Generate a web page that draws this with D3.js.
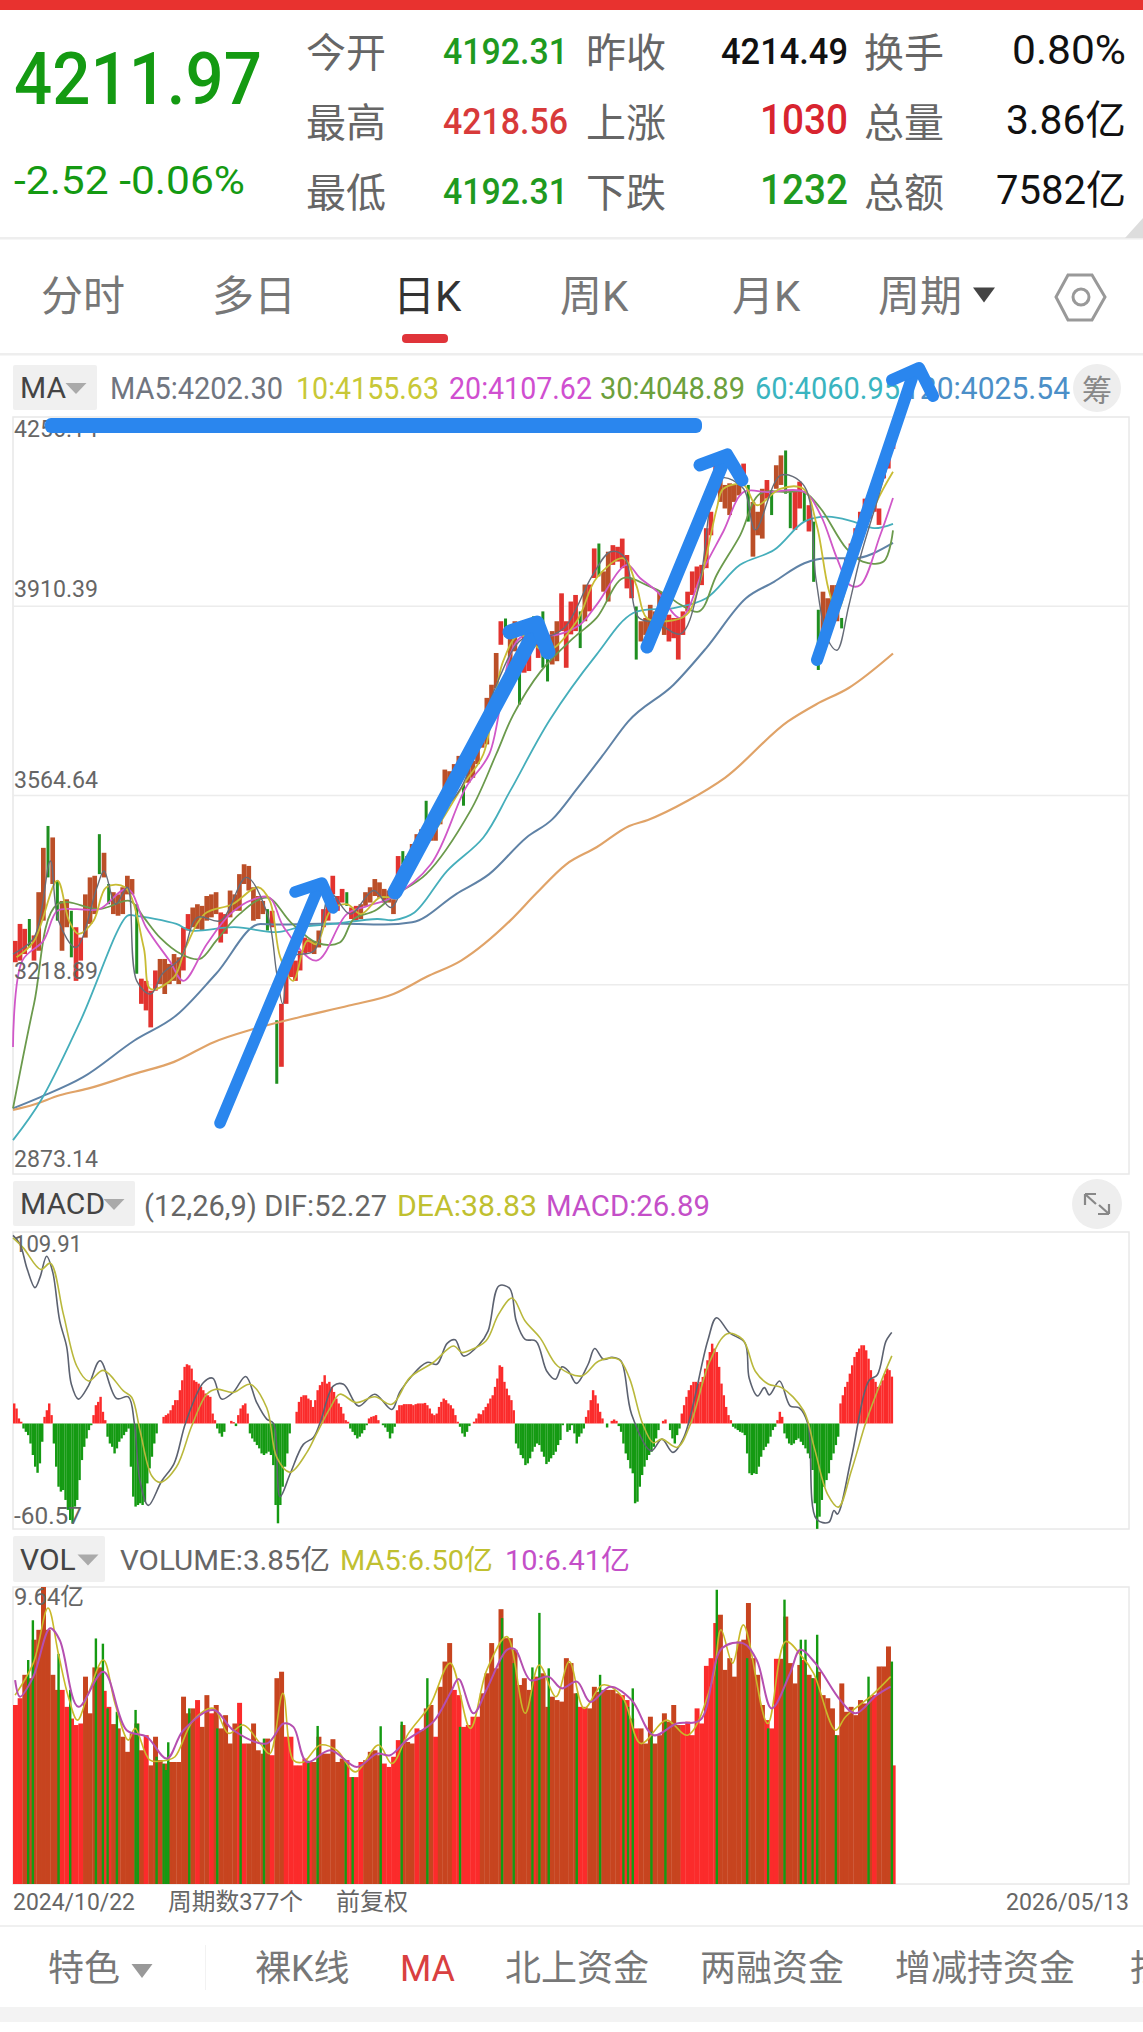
<!DOCTYPE html>
<html><head><meta charset="utf-8">
<style>html,body{margin:0;padding:0;background:#fff}svg{display:block}text{font-family:Roboto,"Noto Sans CJK SC",sans-serif}</style>
<script src="https://cdn.jsdelivr.net/npm/d3@7/dist/d3.min.js"></script></head><body><svg id="c" width="1143" height="2032"></svg>
<script>
const priceTicks=[4256.14,3910.39,3564.64,3218.89,2873.14];
const candleHigh=[3299,3330,3321,3339,3309,3388,3469,3509,3488,3409,3372,3375,3354,3324,3305,3384,3415,3418,3494,3460,
3403,3388,3384,3397,3418,3412,3366,3230,3226,3208,3245,3266,3266,3257,3275,3269,3324,3348,3360,3366,
3363,3381,3384,3388,3351,3348,3391,3384,3421,3439,3436,3397,3381,3372,3357,3354,3154,3184,3269,3275,
3263,3281,3305,3302,3299,3318,3357,3369,3418,3381,3394,3388,3360,3363,3366,3388,3397,3412,3406,3394,
3391,3375,3454,3463,3454,3476,3494,3503,3555,3527,3530,3561,3612,3609,3622,3637,3585,3616,3628,3652,
3682,3743,3767,3825,3883,3888,3865,3883,3834,3859,3834,3892,3865,3901,3859,3865,3883,3934,3883,3919,
3931,3901,3950,3950,4016,4025,3974,4010,4022,4019,4034,4004,3962,3910,3883,3889,3913,3901,3937,3910,
3895,3889,3889,3901,3937,3974,3983,3986,4053,4083,4168,4189,4132,4135,4132,4138,4171,4132,4101,4083,
4125,4141,4122,4168,4186,4195,4119,4122,4138,4119,4095,4065,3904,3937,3925,3949,3949,3889,3998,4025,
4053,4083,4107,4113,4107,4089,4180,4192,4229];
const candleLow=[3260,3263,3275,3287,3263,3281,3336,3415,3403,3336,3281,3324,3269,3226,3263,3305,3330,3348,3421,3415,
3366,3348,3345,3348,3384,3384,3239,3184,3172,3141,3208,3220,3202,3220,3226,3220,3245,3318,3324,3321,
3318,3336,3342,3348,3296,3312,3342,3354,3354,3403,3391,3336,3339,3348,3318,3324,3038,3069,3184,3233,
3226,3245,3275,3278,3275,3287,3324,3336,3384,3354,3369,3363,3339,3336,3339,3363,3369,3381,3378,3369,
3369,3348,3397,3439,3415,3439,3457,3476,3500,3482,3482,3512,3573,3579,3585,3603,3546,3588,3597,3622,
3652,3658,3713,3761,3840,3855,3795,3828,3731,3789,3792,3834,3816,3798,3773,3804,3810,3865,3798,3859,
3865,3834,3883,3901,3962,3965,3937,3919,3986,3992,3980,3943,3925,3813,3846,3858,3864,3876,3883,3858,
3846,3852,3813,3858,3901,3931,3943,3949,3980,4040,4138,4101,4089,4077,4101,4113,4144,4065,4001,4040,
4034,4107,4077,4125,4132,4116,4053,4050,4089,4065,4047,3955,3794,3846,3876,3901,3883,3870,3955,3992,
4022,4059,4071,4071,4083,4059,4144,4162,4198];
const candleDown=[3,7,9,12,18,20,26,54,56,71,83,88,96,105,108,111,113,114,121,125,133,157,162,165,166,169,171,172,177];
const candleMuted=[[5,12],[15,19],[21,25],[31,35],[38,43],[46,53],[64,65],[74,81],[84,87],[89,95],[97,103],[106,107],[115,116],[122,122],[126,127],[134,139],[151,155],[157,160],[163,164],[173,176]];

const ma5Idx=[0,9,16,19.5,27,36,39,44,49,53,59,64,72,79,89,100,109,113,115.6,119,129,136,144.5,154.5,162,173,192,205,218,225,236,248,256,262,268,276,286,294,300,304,313,318,329,339,344,349,353,358,363,370,377];
const ma5Val=[3275,3305,3445,3336,3287,3397,3427,3366,3397,3226,3202,3239,3269,3342,3336,3415,3348,3239,3184,3269,3281,3385,3348,3391,3360,3482,3579,3745,3850,3850,3870,3965,4010,4000,3890,3880,3860,3950,4120,4145,4125,4050,4150,4130,3960,3850,3830,3910,4000,4100,4202];
const ma10Idx=[1.5,9,19,24,28,34.5,40,48,56,59,69,74,82,94,105,110,114.5,120,126,130,136,143,149,157,163,171.5,179,194,201.5,210,217,228.6,241.5,250,261.5,267,271.5,280,288.6,294.3,301.5,304.3,313,318.6,328.6,338.6,344.3,349.3,353,360,370,377];
const ma10Val=[3269,3299,3409,3336,3312,3336,3397,3397,3287,3211,3233,3287,3348,3366,3397,3372,3269,3226,3299,3293,3354,3366,3348,3378,3381,3445,3488,3591,3640,3810,3858,3828,3883,3962,3998,3949,3889,3883,3895,3955,4089,4125,4132,4095,4125,4125,4059,3943,3901,3992,4101,4156];
const ma20Idx=[0,4,13,19,27,37,49,57,67,73,83,93,103,110,116,130,143,152,162,179,194,204,217,233,243,250,263,268.6,276,286,296,304.3,313,323,339,346,353,358.6,363,371.5,377];
const ma20Val=[3105,3263,3299,3354,3357,3357,3394,3324,3263,3226,3293,3348,3375,3378,3324,3263,3348,3363,3378,3439,3579,3640,3852,3858,3877,3913,3986,3962,3937,3889,3980,4047,4119,4119,4119,4077,3998,3949,3949,4040,4108];
const ma30Idx=[0,9,19,37,50,56,63,72,80,87,97,109,119,130,140,146,155,163,177,196,207,214.3,226,240,250,261.5,271.5,280,286,294,301.5,311.5,320,331.5,339,346,357,364,373,377];
const ma30Val=[2993,3184,3366,3357,3372,3342,3305,3275,3266,3299,3348,3378,3333,3296,3296,3339,3354,3381,3421,3537,3640,3712,3791,3852,3889,3962,3949,3931,3913,3901,3968,4040,4116,4119,4119,4089,4016,3992,3992,4049];
const ma60Idx=[0,12,29,49,52,70,76,95,113,123,137,156,163,172,186,201.5,213,230,250,265.7,283,297,311.5,326,339,349,360,369,377];
const ma60Val=[2935,3008,3154,3345,3345,3330,3318,3324,3315,3324,3330,3339,3337,3351,3427,3488,3573,3703,3822,3898,3907,3925,3986,4013,4065,4074,4065,4053,4061];
const ma120Idx=[0,12,30,52,70,87,106,113,137,159,171,190,204,220,231,242,253,263.6,283,297,314,326,339,349,360,377];
const ma120Val=[2993,3014,3050,3117,3163,3239,3330,3329,3331,3329,3333,3385,3421,3488,3521,3579,3640,3700,3767,3834,3925,3955,3989,3998,3998,4026];
const ma250Idx=[0,9,20,32,52,69,86,103,123,144,163,177,192,213,224,237,250,264,272,289,305,332,344,358,377];
const ma250Val=[2990,3000,3017,3029,3056,3078,3114,3138,3160,3181,3202,3233,3263,3336,3385,3439,3470,3509,3520,3555,3597,3700,3731,3761,3824];

const macdHist=[11.5,8.6,2.9,1,-2.9,-4.8,-6.7,-11.5,-18.1,-24.8,-28.3,-22.9,-10.5,3.8,7.6,11.5,4.8,
-11.5,-24.8,-36.3,-39.1,-38.2,-43.9,-49.6,-55.4,-57.3,-47.7,-43.9,-32.5,-21,-13.4,-8.6,-3.8,-1,
4.8,10.5,12.4,15.3,6.7,1.9,-7.6,-11.5,-13.4,-17.2,-14.3,-10.5,-8.6,-6.7,-4.8,-2.9,
-24.8,-42,-47.7,-46.8,-45.8,-46.8,-44.9,-34.4,-25.8,-19.1,-11.5,-5.7,0,0,
3.8,4.8,5.7,7.6,10.5,13.4,13.4,19.1,24.8,32.5,34,33.4,31.5,24.8,23.9,22.9,21,19.1,17.2,16.2,15.3,5.7,1.9,
-2.9,-5.7,-7.6,-4.8,0,0,1.5,.8,-1.5,4.8,8.6,10.5,11.5,5.7,
-5.7,-8.6,-10.5,-12.4,-14.3,-17.2,-18.1,-17.2,-16.2,-18.1,-23.9,-46.8,-57.3,-46.8,-36.3,-24.8,-17.2,-5.7,0,0,
6.7,12.4,15.3,16.2,16.2,14.3,13.4,9.5,13.4,19.1,22,23.9,27.7,22.9,23.9,21,18.1,14.3,11.5,9.5,5.7,1.9,1,
-2.9,-4.8,-6.7,-8.6,-7.6,-5.7,-3.8,-1,2.9,3.8,4.2,4.8,1.9,0,-1,-2.3,-4.8,-8.6,-5.7,-1.9,
7.6,10.5,10.5,11.1,11.1,11.1,11.1,10.5,11.1,11.5,11.5,11.5,11.8,10.5,8.6,5.7,4.8,5.7,9.5,12.4,14.3,13.4,11.5,10.5,8.6,4.8,1,
-1.9,-5.7,-7.6,-4.8,-1.5,0,
1,2.9,5.7,5.3,7.6,9.5,11.5,14.3,16.2,21,25.8,33.4,32.5,23.9,20,16.2,13.4,7.6,
-11.5,-14.3,-18.1,-20,-23.9,-22.9,-20,-16.2,-13.4,-11.5,-12.4,-16.2,-19.1,-23.3,-22,-20,-18.1,-16.2,-12.4,-9.5,
-1,0,-4.8,-3.8,-1,-5.7,-11.5,-7.6,-5.7,-2.9,3.8,7.6,13.4,19.1,16.2,11.5,6.7,2.9,0,-2.3,0,1.5,2.3,1.5,-1.5,
-4.8,-11.5,-17.2,-21,-25.8,-28.6,-45.8,-44.9,-36.3,-29.6,-24.8,-21,-18.1,-16.2,-13.4,-8.6,-3.8,0,1.5,2.3,0,
-3.8,-8.6,-11.5,-6.7,-2.9,
5.7,10.5,15.3,19.1,22,23.9,23.9,22.9,23.9,26.7,31.5,36.3,41,45.8,43,41,32.5,22.9,16.2,9.5,4.8,1.9,
-1.9,-2.9,-3.8,-4.8,-5.3,-6.7,-17.2,-28.6,-29.6,-28.6,-29,-24.8,-19.1,-15.3,-13.4,-11.5,-7.6,-3.8,-1.9,1.9,6.7,3.8,
-5.7,-8.6,-11.5,-12.4,-11.5,-9.5,-8.6,-10.5,-12.4,-14.3,-17.2,-20,-26.7,-45.8,-60.5,-53.5,-43.9,-36.3,-32.5,-28.6,-21,-17.2,-12.4,-7.6,
11.5,16.2,21,23.9,28.6,33.4,38.2,41,43,44.9,44.9,42,37.2,30.6,25.8,23.9,21,22,24.8,28.6,31.5,30.6,26.89];
const difIdx=[0,3,6,9.4,11.6,14.4,17,20,23,25,28,32.3,37.3,44.4,49.4,52,54.4,58,63.7,69,74,81.6,85.6,89.4,94.4,99.7,104.4,108.7,111.6,114.4,118.7,124.4,128.7,131.6,137.3,141.6,148,155,162.3,166,177.3,181.6,186,189.4,193,199.8,203.5,208.2,212.8,215.6,219.4,224,228.7,232.4,235.2,238,241.4,246.4,249.2,253,256.6,260.4,265,273.4,278,282.7,287.4,297.6,301.4,307,313.5,315.4,319,321.9,324,328.4,333,336.8,340.5,344.2,349.5,351.7,353.2,359.2,366.6,370.3,374,376.5];
const difVal=[108,103,89,78,84,96,87,59,44,22.5,14,21.6,36,14.3,15.3,0,-33,-47,-33,-23,0.6,23.5,26,14,18,27,12,2.5,0,-42,-29,-12,-8,.6,21.6,22.5,10,16.8,8,18.7,35,34,46,48,38.7,45.4,53,79,77.5,58.8,48.3,47.3,30,25.4,32.5,30,23,34,43,36.8,38,36,5.3,-15.7,-9,-16.6,-8,47.3,60.7,52,46.4,26,15.8,20.6,16.4,24.4,10,9,0,-54.8,-56.7,-50,-52,-19.5,24.4,28,47.3,52.27];
const deaIdx=[0,4.4,11.9,16,21.6,27.3,32.3,38.7,47.3,50.9,54.4,59.4,63,70,76.6,83,87.3,94.4,101.6,108.7,113,118.7,125.9,130,135.9,140,147,155,162.3,170,180,188.7,192.3,195,202.6,208,213.8,219.4,225.9,233.3,243.6,251,259.4,264,269.7,274.3,278,284.6,290.2,298.6,306,312.6,318,323.7,329.3,338.7,343.3,349,353.6,359.2,365.6,372,376.5];
const deaVal=[106.5,100.8,88.4,92,62.6,33,24.4,30.5,18.7,14.9,-4,-30,-33.8,-25,-1.3,16.8,19.7,17.8,22.5,9,-19.5,-28,-16.6,-6,9,16.8,12,15.3,11,26.3,35,44.5,40.7,41.6,47.3,62.6,72,58.8,49,33,27.3,35.9,36.8,26.3,0,-11,-9,-13.7,-.4,35.9,51.5,48.3,30,22.5,20.6,7.3,-14,-40.7,-48,-27,1.5,24.4,38.83];

const volume=[5.81,6.03,6.79,6.68,7.93,8.25,9.64,8.25,6.79,6.30,6.30,5.75,5.37,5.16,5.21,6.73,5.54,7.03,7.03,6.27,
5.75,5.19,5.05,4.78,4.29,4.89,5.21,4.34,4.83,3.85,4.78,4.02,3.91,3.96,3.96,3.96,6.08,5.54,5.70,5.97,
5.10,6.13,5.54,5.81,5.05,5.48,4.56,5.21,5.88,4.56,4.56,5.21,4.34,4.23,4.72,4.18,6.68,6.89,4.78,4.78,
3.85,3.85,4.07,3.96,3.96,4.78,4.23,4.23,4.70,3.96,4.07,4.02,3.47,3.47,3.96,4.02,4.29,4.34,4.18,3.91,
3.80,4.13,4.67,5.16,4.61,4.56,5.05,4.99,5.70,5.81,4.78,6.40,7.22,7.82,
6.30,6.13,5.10,5.16,5.43,5.43,6.19,6.84,7.82,7.00,8.92,7.98,7.98,7.60,6.46,6.68,6.30,6.73,6.73,6.84,
5.75,6.08,5.97,5.92,7.33,7.17,6.19,5.75,5.75,5.70,6.40,6.24,6.30,6.30,6.30,6.19,6.13,5.97,5.37,5.05,
5.05,4.56,5.43,4.56,4.83,5.54,5.27,5.81,5.16,5.16,5.27,4.83,5.70,5.21,7.08,7.33,8.47,8.74,6.95,7.33,
6.73,7.87,7.93,9.12,7.33,6.79,5.81,5.32,5.05,7.31,7.31,8.68,7.17,6.51,7.11,7.27,6.79,6.68,6.89,6.13,
6.03,5.70,4.83,6.51,5.59,5.75,5.48,5.97,5.86,6.08,6.13,7.06,7.06,7.71,3.85];
const volMuted=[[2,9],[15,18],[21,27],[29,38],[40,41],[43,47],[50,54],[56,57],[64,70],[75,78],[83,85],[87,89],[91,93],[100,102],[103,107],[108,110],[112,113],[114,120],[123,129],[134,138],[139,142],[151,157],[158,160],[164,168],[170,170],[172,176],[177,183],[185,187]];
const volGreenIdx=[6,8,19,24,35,38,40,44,52,53,61,64,65,66,75,87,97,107,126,130,142,145,157,166,177,191,209,214,222,225,229,241,251,261,263,265,273,279,301,314,323,330,337,339,342,344,352,366,376];
const volGreenVal=[7.27,8.56,7.47,6.3,7.97,7.8,5.7,5.59,5.65,5.2,4.13,3.9,3.7,4.6,5.7,5.05,5.2,4.72,4.0,5.13,3.96,3.47,5.12,5.27,6.68,5.1,8.63,7.17,7.03,8.8,7.0,6.19,6.79,5.97,5.75,6.35,4.94,5.27,9.55,7.33,5.05,9.23,7.93,7.93,6.68,8.09,4.83,6.73,7.22];
const volMa5Idx=[0.9,8.7,15,19.4,23.7,27.6,32.3,38.7,43.7,49.4,52.3,58.7,65.9,69.4,77.3,85.9,92.3,98.7,105.9,110,115.6,120.1,124.4,131.6,138.7,146.6,156.6,162.3,169.4,178.7,187.3,195.9,203,211.6,219.4,225.4,232.6,238.3,244.7,252.6,261,269,279.9,289,299.7,303.3,308.3,312.9,323.3,331,338,343,352.4,356.7,368,376];
const volMa5Val=[6.13,7.17,8.96,7.49,6.08,5.32,6.19,7.27,5.86,4.67,5.05,4.02,4.02,4.13,5.32,5.7,4.89,5.16,4.56,4.23,6.19,4.02,3.96,4.51,4.34,3.64,4.51,3.91,4.89,5.81,7.17,5.05,6.95,8.03,5.54,7.11,6.08,7.22,5.7,6.46,6.08,4.56,5.32,4.83,6.62,8.25,7.17,8.41,5.21,7.87,7.38,6.84,4.99,5.43,6.13,6.73];
const volMa10Idx=[0.9,3,8.7,15.9,20,28,38.7,48.7,57.3,65.9,73,85.9,94.4,108.7,115.9,120.1,125.9,135.9,147.3,155.9,161.6,168.7,180.1,187.3,190.9,197.3,203,211.6,215,221.6,229.4,235,241.6,247.3,255.9,265,274.4,284.4,294.4,303.7,312.9,318.6,325,332.9,337.3,343.7,354.4,360.9,370,376];
const volMa10Val=[6.62,6.08,6.73,8.3,7.92,5.75,6.89,4.99,4.78,4.07,4.99,5.65,4.99,4.56,5.21,5.1,3.96,4.34,3.8,4.23,4.18,4.67,5.27,6.19,6.65,5.54,6.33,7.6,7.62,6.62,6.73,6.35,6.57,5.91,6.4,5.97,4.83,5.21,5.32,7.65,7.81,7.27,5.7,6.84,7.6,7.17,5.97,5.54,6.13,6.41];

const quoteLabels=[["今开","昨收","换手"],["最高","上涨","总量"],["最低","下跌","总额"]];
const quoteCol1=["4192.31","4218.56","4192.31"];
const quoteCol2=["4214.49","1030","1232"];
const quoteCol3=["0.80%","3.86亿","7582亿"];
const periodTabs=["分时","多日","日K","周K","月K","周期"];
const maLegend=["MA5:4202.30","10:4155.63","20:4107.62","30:4048.89","60:4060.95","120:4025.54"];
const bottomTabs=["裸K线","MA","北上资金","两融资金","增减持资金","抄底"];

const RED="#fb2b2b",BROWN="#c7441f",GREEN="#149a12",CUP="#e2332f",CMUTE="#bb4f28",CDOWN="#1f8f20";
const svg=d3.select("#c");
const rect=(g,x,y,w,h,f,rx)=>g.append("rect").attr("x",x).attr("y",y).attr("width",w).attr("height",h).attr("fill",f).attr("rx",rx||0);
function txt(g,x,y,s,size,fill,o={}){const t=g.append("text").attr("x",x).attr("y",y).attr("font-size",size).attr("fill",fill).attr("text-anchor",o.a||"start").attr("font-weight",o.w||400).text(s);
 if(o.len)t.attr("textLength",o.len).attr("lengthAdjust","spacingAndGlyphs");return t;}
const tri=(g,cx,cy,w,h,f)=>g.append("path").attr("d",`M${cx-w/2},${cy-h/2}L${cx+w/2},${cy-h/2}L${cx},${cy+h/2}Z`).attr("fill",f);
const inRanges=(r,k)=>r.some(a=>k>=a[0]&&k<=a[1]);

const X=d3.scaleLinear().domain([0,377]).range([13,893]);
const yP=d3.scaleLinear().domain([2873.14,4256.14]).range([1174,417]);
const yM=d3.scaleLinear().domain([-60.57,109.91]).range([1529,1232]);
const yV=d3.scaleLinear().domain([0,9.64]).range([1884,1587]);
const series=(g,xs,vs,y,color,w,curve)=>g.append("path").datum(xs.map((d,i)=>[d,vs[i]])).attr("fill","none").attr("stroke",color).attr("stroke-width",w).attr("stroke-linejoin","round")
 .attr("d",d3.line().x(d=>X(d[0])).y(d=>y(d[1])).curve(curve||d3.curveCatmullRom.alpha(0.5)));

// header
rect(svg,0,0,1143,10,"#e8322f");
const head=svg.append("g");
txt(head,14,104,"4211.97",72,GREEN,{w:500,len:248});
txt(head,14,194,"-2.52 -0.06%",39,GREEN,{len:231});
const rowY=[67,137,207],cols=[306,586,864];
quoteLabels.forEach((r,i)=>r.forEach((s,j)=>txt(head,cols[j],rowY[i],s,40,"#666")));
const c1=["#1f9a1f","#d83a3a","#1f9a1f"],c2=["#111","#d8242f","#1f9a1f"];
quoteCol1.forEach((s,i)=>txt(head,568,rowY[i]-3,s,36,c1[i],{a:"end",len:125,w:500}));
quoteCol2.forEach((s,i)=>txt(head,848,rowY[i]-3,s,i?42:36,c2[i],{a:"end",len:i?88:127,w:500}));
const col3Len=[114,120,130];
quoteCol3.forEach((s,i)=>txt(head,1126,rowY[i]-3,s,40,"#111",{a:"end",len:col3Len[i]}));
rect(svg,0,237,1143,2.5,"#eeeeee");
svg.append("path").attr("d","M1125,238L1143,238L1143,218Z").attr("fill","#ddd");
const tabX=[41,212,393,560,732,878];
periodTabs.forEach((s,i)=>txt(svg,tabX[i],311,s,42,i==2?"#333":"#777"));
tri(svg,984,295,22,15,"#444");
svg.append("path").attr("d","M1068,275L1092,275L1105,297L1092,320L1068,320L1056,297Z").attr("fill","none").attr("stroke","#999").attr("stroke-width",3);
svg.append("circle").attr("cx",1081).attr("cy",297).attr("r",8).attr("fill","none").attr("stroke","#999").attr("stroke-width",3);
rect(svg,402,334,46,9,"#e0343a",4);
rect(svg,0,353,1143,2.5,"#eeeeee");

// section headers
function tag(y,h,w,s,tx,fs){rect(svg,13,y,w,h,"#f0f0f0",2);txt(svg,20,y+h/2+fs*.36,s,fs,"#444");tri(svg,tx,y+h/2+1,21,11,"#aaa");}
tag(365,45,84,"MA",76,30);
const legX=[110,296,449,600,755,903],legLen=[173,143,143,145,145,167],legC=["#70757f","#c8c837","#d04fd0","#6ca03c","#3ab4c0","#4b8fc8"];
maLegend.forEach((s,i)=>txt(svg,legX[i],399,s,31,legC[i],{len:legLen[i]}));
svg.append("circle").attr("cx",1097).attr("cy",388).attr("r",24).attr("fill","#eee");
txt(svg,1097,401,"筹",30,"#888",{a:"middle"});
tag(1181,45,122,"MACD",114,30);
txt(svg,144,1216,"(12,26,9) DIF:52.27",30,"#666",{len:243});
txt(svg,397,1216,"DEA:38.83",30,"#c0c030",{len:140});
txt(svg,546,1216,"MACD:26.89",30,"#c44fc8",{len:164});
svg.append("circle").attr("cx",1097).attr("cy",1204).attr("r",25).attr("fill","#eee");
svg.append("path").attr("d","M1085,1194L1085,1205M1085,1194L1096,1194M1085,1194L1096,1204M1109,1214L1109,1204M1109,1214L1098,1214M1109,1214L1099,1205").attr("stroke","#888").attr("stroke-width",2.2).attr("fill","none");
tag(1536,46,92,"VOL",88,30);
txt(svg,120,1570,"VOLUME:3.85亿",28,"#666",{len:210});
txt(svg,340,1570,"MA5:6.50亿",28,"#c0c030",{len:153});
txt(svg,505,1570,"10:6.41亿",28,"#c44fc8",{len:125});

// frames & grid
[[417,1174],[1232,1529],[1587,1884]].forEach(p=>svg.append("rect").attr("x",13).attr("y",p[0]).attr("width",1116).attr("height",p[1]-p[0]).attr("fill","none").attr("stroke","#e8e8e8").attr("stroke-width",1.5));
priceTicks.slice(1,4).forEach(t=>svg.append("line").attr("x1",13).attr("x2",1129).attr("y1",yP(t)).attr("y2",yP(t)).attr("stroke","#ececec").attr("stroke-width",1.5));

// volume
const vg=svg.append("g");
volume.forEach((v,k)=>rect(vg,X(2*k),yV(v),X(2)-X(0)+.3,yV(0)-yV(v),inRanges(volMuted,k)?BROWN:RED));
volGreenIdx.forEach((d,i)=>rect(vg,X(d),yV(volGreenVal[i]),2.4,yV(0)-yV(volGreenVal[i]),GREEN));
series(svg,volMa5Idx,volMa5Val,yV,"#c9b92a",1.6);
series(svg,volMa10Idx,volMa10Val,yV,"#b54fb0",2);

// macd
const mg=svg.append("g");
macdHist.forEach((v,i)=>{if(v!==0)rect(mg,X(i),Math.min(yM(v),yM(0)),X(1)-X(0)+.1,Math.abs(yM(v)-yM(0)),v>0?RED:GREEN);});
series(svg,difIdx,difVal,yM,"#5c6270",1.6);
series(svg,deaIdx,deaVal,yM,"#b9b83c",1.6);

// candles
const cg=svg.append("g");
candleHigh.forEach((h,k)=>{const down=candleDown.includes(k),w=down?3:4.7;
 rect(cg,X(2*k+1)-w/2,yP(h),w,yP(candleLow[k])-yP(h),down?CDOWN:inRanges(candleMuted,k)?CMUTE:CUP);});
[[ma120Idx,ma120Val,"#5f82a6",2,d3.curveMonotoneX],[ma250Idx,ma250Val,"#e0a368",2.2,d3.curveMonotoneX],[ma60Idx,ma60Val,"#45aebb",1.8],[ma30Idx,ma30Val,"#6b9a4c",1.8],[ma20Idx,ma20Val,"#d058c8",1.8],[ma10Idx,ma10Val,"#c8bc34",1.8],[ma5Idx,ma5Val,"#666c78",1.4]]
 .forEach(s=>series(svg,s[0],s[1],yP,s[2],s[3],s[4]));

// axis labels
const lbl=(y,s,len)=>txt(svg,14,y,s,24,"#666",{len});
const fmt=d3.format(".2f");
lbl(437,fmt(priceTicks[0]),84);lbl(597,fmt(priceTicks[1]),84);lbl(788,fmt(priceTicks[2]),84);lbl(979,fmt(priceTicks[3]),84);lbl(1167,fmt(priceTicks[4]),84);
lbl(1252,"109.91",68);lbl(1524,"-60.57",68);lbl(1605,"9.64亿",70);

// footer
txt(svg,13,1910,"2024/10/22",24,"#666",{len:122});
txt(svg,168,1910,"周期数377个",24,"#666",{len:135});
txt(svg,336,1910,"前复权",24,"#666");
txt(svg,1129,1910,"2026/05/13",24,"#666",{a:"end",len:123});
rect(svg,0,1925,1143,2,"#f0f0f0");
txt(svg,48,1981,"特色",36,"#777");tri(svg,142,1971,21,14,"#999");
rect(svg,205,1945,1,45,"#f2f2f2");
const bx=[255,400,505,700,895,1130];
bottomTabs.forEach((s,i)=>txt(svg,bx[i],1981,s,36,i==1?"#d94040":"#777",i==1?{len:55}:{}));
rect(svg,0,2007,1143,15,"#f3f3f3");

// hand-drawn annotations
const blue="#2a86ee";
rect(svg,45,418,657,15,blue,6);
[[[[220,1123],[320,884]],[[295,892],[322,883],[333,908]],11.5],
 [[[395,892],[537,628]],[[510,632],[537,623],[548,652]],15],
 [[[647,647],[725,458]],[[700,465],[727,455],[742,480]],13],
 [[[817,660],[914,372]],[[892,380],[919,368],[933,396]],12]].forEach(a=>{
  [a[0],a[1]].forEach(p=>svg.append("path").attr("d",d3.line()(p)).attr("fill","none").attr("stroke",blue).attr("stroke-width",a[2]).attr("stroke-linecap","round").attr("stroke-linejoin","round"));
 });
</script></body></html>
